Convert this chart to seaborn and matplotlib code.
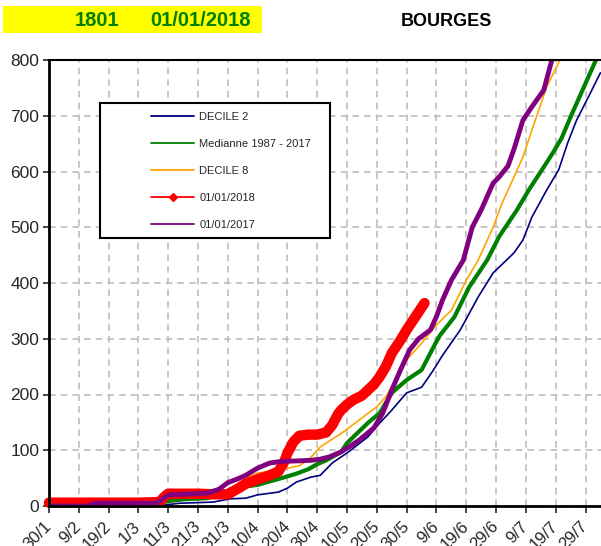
import matplotlib
matplotlib.use("Agg")
import matplotlib.pyplot as plt
from matplotlib.patches import Rectangle
from matplotlib.lines import Line2D
import seaborn as sns
import pandas as pd

# ---- data (days counted from 30/1) ----
tick_days = [0, 10, 20, 30, 40, 50, 60, 70, 80, 90, 100, 110, 120, 130, 140, 150, 160, 170, 180]
tick_labels = ["30/1", "9/2", "19/2", "1/3", "11/3", "21/3", "31/3", "10/4", "20/4", "30/4",
               "10/5", "20/5", "30/5", "9/6", "19/6", "29/6", "9/7", "19/7", "29/7"]

d2_days = [0, 37, 39, 44, 55, 58, 61, 66, 70, 77, 80, 83, 88, 91, 95, 98, 100, 107, 111, 115,
           120, 125, 129, 132, 138, 144, 149, 156, 159, 162, 167, 171, 174, 177, 181, 185]
d2_vals = [0, 0, 2, 5, 7, 10, 13, 14, 20, 25, 32, 43, 52, 55, 77, 88, 95, 124, 149, 172,
           203, 213, 244, 270, 316, 375, 418, 454, 477, 518, 567, 603, 651, 692, 734, 777]

med_days = [0, 37, 39, 45, 53, 57, 61, 66, 70, 78, 83, 87, 90, 93, 98, 100, 107, 111, 115, 120,
            125, 129, 131, 136, 141, 147, 151, 157, 161, 166, 169, 172, 175, 178, 182, 184]
med_vals = [0, 2, 8, 12, 14, 20, 30, 35, 38, 50, 58, 66, 75, 82, 97, 113, 149, 167, 203, 226,
            244, 285, 305, 339, 393, 441, 483, 531, 567, 608, 633, 660, 698, 734, 782, 806]

d8_days = [0, 37, 39, 50, 58, 62, 66, 70, 75, 80, 84, 88, 91, 98, 104, 110, 113, 117, 120, 125,
           130, 135, 140, 144, 149, 152, 156, 159, 162, 167, 172]
d8_vals = [0, 3, 15, 20, 25, 35, 50, 59, 63, 68, 72, 88, 106, 130, 154, 178, 196, 232, 262, 292,
           325, 351, 405, 441, 500, 543, 590, 626, 674, 752, 806]

y2018_days = [0, 10, 20, 30, 37, 39, 40, 45, 50, 55, 60, 62, 64, 66, 70, 74, 77, 79, 80, 82, 84,
              87, 90, 93, 95, 97, 98, 100, 102, 105, 107, 109, 111, 113, 115, 118, 120, 122, 124, 126]
y2018_vals = [6, 6, 6, 6, 7, 18, 22, 22, 22, 21, 21, 27, 33, 40, 48, 55, 62, 80, 95, 115, 126,
              128, 128, 132, 145, 165, 172, 182, 190, 198, 208, 218, 232, 250, 274, 298, 316, 332, 348, 364]

y2017_days = [0, 13, 15, 36, 38, 40, 45, 53, 57, 60, 63, 66, 70, 74, 78, 84, 88, 91, 94, 98, 101,
              104, 109, 112, 115, 118, 121, 124, 128, 130, 132, 135, 139, 142, 145, 149, 151, 154,
              156, 159, 162, 166, 169]
y2017_vals = [0, 0, 5, 5, 12, 20, 21, 23, 30, 42, 48, 55, 68, 77, 80, 81, 82, 84, 88, 97, 107,
              118, 140, 167, 208, 245, 280, 300, 316, 340, 369, 405, 441, 500, 531, 579, 590, 610,
              640, 692, 716, 746, 806]

names = ["DECILE 2", "Medianne 1987 - 2017", "DECILE 8", "01/01/2018", "01/01/2017"]
colors = ["#000080", "#008000", "#FFA500", "#FF0000", "#800080"]

sns.set_theme(style="white")
plt.rcParams["font.family"] = ["Liberation Sans", "DejaVu Sans"]

W, H = 601, 546
fig = plt.figure(figsize=(W / 100, H / 100), dpi=100)
ax = fig.add_axes([49 / W, 40 / H, 552 / W, 446 / H])

series = [(d2_days, d2_vals, colors[0], 1.2),
          (med_days, med_vals, colors[1], 3.0),
          (d8_days, d8_vals, colors[2], 1.2),
          (y2018_days, y2018_vals, colors[3], 7.5),
          (y2017_days, y2017_vals, colors[4], 3.5)]
for (dd, vv, c, lw), nm in zip(series, names):
    df = pd.DataFrame({"day": dd, "val": vv})
    sns.lineplot(data=df, x="day", y="val", ax=ax, color=c, linewidth=lw,
                 estimator=None, sort=False, legend=False, clip_on=(nm != "01/01/2018"))

ax.set_xlim(0, 185.2)
ax.set_ylim(0, 800)
ax.set_xlabel("")
ax.set_ylabel("")
ax.set_xticks(tick_days)
ax.set_xticklabels(tick_labels, rotation=45, ha="right", va="center",
                   rotation_mode="anchor", fontsize=12)
ax.set_yticks(range(0, 801, 100))
ax.tick_params(axis="y", labelsize=12.5, length=4, width=1.2, direction="out", pad=3, left=True)
ax.tick_params(axis="x", length=5, width=1.2, direction="out", pad=8, bottom=True)
ax.grid(True, color="#bdbdbd", linestyle=(0, (4, 3)), linewidth=1.2)
ax.set_axisbelow(True)
for s in ["left", "bottom"]:
    ax.spines[s].set_color("black")
    ax.spines[s].set_linewidth(2)
ax.spines["top"].set_color("black")
ax.spines["top"].set_linewidth(1.5)
ax.spines["right"].set_visible(False)

# title band
fig.patches.append(Rectangle((3 / W, 1 - 33 / H), 259 / W, 27 / H,
                             transform=fig.transFigure, facecolor="#FFFF00", edgecolor="none"))
fig.text(75 / W, 1 - 20 / H, "1801", color="#008000", fontsize=14.5, fontweight="bold",
         ha="left", va="center")
fig.text(150 / W, 1 - 20 / H, "01/01/2018", color="#008000", fontsize=14.5, fontweight="bold",
         ha="left", va="center")
fig.text(446 / W, 1 - 21 / H, "BOURGES", color="black", fontsize=13, fontweight="bold",
         ha="center", va="center")

# legend
fig.patches.append(Rectangle((100 / W, 1 - 238 / H), 230 / W, 135 / H, transform=fig.transFigure,
                             facecolor="white", edgecolor="black", linewidth=1.5, zorder=5))
handles = [Line2D([], [], color=colors[0], lw=1.3),
           Line2D([], [], color=colors[1], lw=1.3),
           Line2D([], [], color=colors[2], lw=1.3),
           Line2D([], [], color=colors[3], lw=1.3, marker="D", markersize=4),
           Line2D([], [], color=colors[4], lw=1.3)]
leg = fig.legend(handles, names, loc="upper left", bbox_to_anchor=(151 / W, 1 - 112 / H),
                 bbox_transform=fig.transFigure, frameon=False, fontsize=8,
                 handlelength=3.9, handletextpad=0.45, labelspacing=1.52, borderpad=0,
                 borderaxespad=0, numpoints=1)
leg.set_zorder(6)

fig.savefig("out.png", dpi=100)
